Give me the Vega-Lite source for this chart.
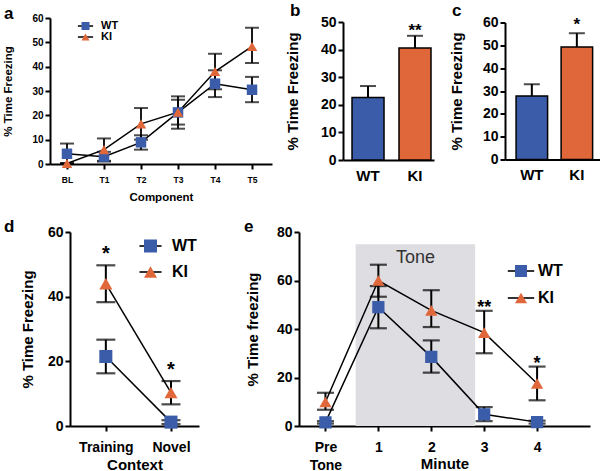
{
"$schema":"https://vega.github.io/schema/vega-lite/v6.json",
"padding":{"left":2,"top":1,"right":0,"bottom":0},
"config":{
 "font":"Liberation Sans",
 "view":{"stroke":null},
 "axis":{"domainColor":"black","domainWidth":2,"tickColor":"black","tickWidth":2,"tickSize":5,"labelColor":"black","labelFontWeight":"bold","titleColor":"black","titleFontWeight":"bold","grid":false,"labelFont":"Liberation Sans","titleFont":"Liberation Sans"},
 "legend":{"labelFontWeight":"bold","labelColor":"black","padding":0,"orient":"none","title":null,"labelFont":"Liberation Sans"},
 "title":{"font":"Liberation Sans","fontWeight":"bold","fontSize":17,"anchor":"start","frame":"group","color":"black","offset":0,"baseline":"alphabetic"}
},
"datasets":{
 "a":[
  {"idx":0,"component":"BL","group":"WT","mean":4.2,"lo":0.3,"hi":8.4},
  {"idx":1,"component":"T1","group":"WT","mean":3.0,"lo":1.0,"hi":5.0},
  {"idx":2,"component":"T2","group":"WT","mean":8.9,"lo":5.9,"hi":11.8},
  {"idx":3,"component":"T3","group":"WT","mean":21.2,"lo":14.5,"hi":27.8},
  {"idx":4,"component":"T4","group":"WT","mean":33.0,"lo":27.5,"hi":38.5},
  {"idx":5,"component":"T5","group":"WT","mean":30.5,"lo":25.4,"hi":35.8},
  {"idx":0,"component":"BL","group":"KI","mean":0.2,"lo":0,"hi":0.4},
  {"idx":1,"component":"T1","group":"KI","mean":5.9,"lo":1.3,"hi":10.5},
  {"idx":2,"component":"T2","group":"KI","mean":16.5,"lo":10.0,"hi":23.0},
  {"idx":3,"component":"T3","group":"KI","mean":21.3,"lo":16.2,"hi":26.4},
  {"idx":4,"component":"T4","group":"KI","mean":38.0,"lo":30.7,"hi":45.3},
  {"idx":5,"component":"T5","group":"KI","mean":48.3,"lo":41.5,"hi":56.0}
 ],
 "b":[{"group":"WT","mean":22.6,"hi":26.8,"star":""},{"group":"KI","mean":40.6,"hi":45.0,"star":"**"}],
 "c":[{"group":"WT","mean":27.8,"hi":33.0,"star":""},{"group":"KI","mean":49.3,"hi":55.3,"star":"*"}],
 "d":[
  {"idx":0,"context":"Training","group":"WT","mean":21.5,"lo":16.3,"hi":26.7,"star":""},
  {"idx":1,"context":"Novel","group":"WT","mean":1.2,"lo":0.6,"hi":1.8,"star":""},
  {"idx":0,"context":"Training","group":"KI","mean":44.0,"lo":38.3,"hi":49.7,"star":"*"},
  {"idx":1,"context":"Novel","group":"KI","mean":10.3,"lo":6.7,"hi":13.9,"star":"*"}
 ],
 "e":[
  {"idx":0,"group":"WT","mean":1.5,"lo":1.0,"hi":2.0,"star":""},
  {"idx":1,"group":"WT","mean":49.0,"lo":40.3,"hi":57.7,"star":""},
  {"idx":2,"group":"WT","mean":28.5,"lo":22.0,"hi":35.3,"star":""},
  {"idx":3,"group":"WT","mean":4.8,"lo":2.0,"hi":7.8,"star":""},
  {"idx":4,"group":"WT","mean":1.6,"lo":1.0,"hi":2.2,"star":""},
  {"idx":0,"group":"KI","mean":9.9,"lo":6.7,"hi":13.7,"star":""},
  {"idx":1,"group":"KI","mean":60.0,"lo":53.3,"hi":66.5,"star":""},
  {"idx":2,"group":"KI","mean":47.7,"lo":40.8,"hi":56.0,"star":""},
  {"idx":3,"group":"KI","mean":38.5,"lo":30.0,"hi":47.5,"star":"**"},
  {"idx":4,"group":"KI","mean":17.5,"lo":10.6,"hi":24.5,"star":"*"}
 ],
 "tone":[{"start":0.57,"end":2.83,"top":75,"mid":1.7,"label":"Tone"}]
},
"spacing":15,
"resolve":{"scale":{"x":"independent","y":"independent","color":"independent","shape":"independent","stroke":"independent"},"legend":{"color":"independent","shape":"independent","stroke":"independent"}},
"vconcat":[
 {
  "hconcat":[
   {
    "width":222,"height":146,
    "title":{"text":"a","dx":-46,"dy":13.5},
    "data":{"name":"a"},
    "encoding":{"x":{"field":"idx","type":"quantitative","scale":{"domain":[-0.459,5.54],"nice":false,"zero":false},"axis":{"values":[0,1,2,3,4,5],"labelExpr":"['BL','T1','T2','T3','T4','T5'][datum.value]","title":"Component","labelFontSize":8.5,"titleFontSize":11.5,"labelPadding":6,"titlePadding":8}}},
    "layer":[
     {"mark":{"type":"line","strokeWidth":1.5},"encoding":{"y":{"field":"mean","type":"quantitative","scale":{"domain":[0,60],"nice":false},"axis":{"values":[0,10,20,30,40,50,60],"title":"% Time Freezing","labelFontSize":10,"titleFontSize":11.5,"titlePadding":18,"labelOverlap":false}},
       "stroke":{"field":"group","type":"nominal","scale":{"domain":["KI","WT"],"range":["black","black"]},"legend":{"values":["WT","KI"],"orient":"none","legendX":30,"legendY":2.5,"symbolSize":64,"symbolType":"M-1.9,0H1.9","symbolStrokeWidth":1.5,"labelFontSize":11,"labelOffset":10,"labelExpr":"''","labelOpacity":0,"rowPadding":-2,"zindex":0}}}},
     {"mark":{"type":"rule","strokeWidth":1.8,"color":"black"},"encoding":{"y":{"field":"lo","type":"quantitative","axis":{"values":[0,10,20,30,40,50,60],"title":"% Time Freezing","labelFontSize":10,"titleFontSize":11.5,"titlePadding":18,"labelOverlap":false}},"y2":{"field":"hi"},"detail":{"field":"group"}}},
     {"mark":{"type":"tick","orient":"horizontal","size":14,"thickness":2,"color":"black"},"encoding":{"y":{"field":"lo","type":"quantitative","axis":{"values":[0,10,20,30,40,50,60],"title":"% Time Freezing","labelFontSize":10,"titleFontSize":11.5,"titlePadding":18,"labelOverlap":false}}}},
     {"mark":{"type":"tick","orient":"horizontal","size":14,"thickness":2,"color":"black"},"encoding":{"y":{"field":"hi","type":"quantitative","axis":{"values":[0,10,20,30,40,50,60],"title":"% Time Freezing","labelFontSize":10,"titleFontSize":11.5,"titlePadding":18,"labelOverlap":false}}}},
     {"mark":{"type":"point","filled":true,"opacity":1,"size":110},"encoding":{
       "y":{"field":"mean","type":"quantitative","axis":{"values":[0,10,20,30,40,50,60],"title":"% Time Freezing","labelFontSize":10,"titleFontSize":11.5,"titlePadding":18,"labelOverlap":false}},
       "shape":{"field":"group","type":"nominal","scale":{"domain":["WT","KI"],"range":["square","triangle-up"]},"legend":{"orient":"none","legendX":30,"legendY":2.5,"symbolSize":64,"labelFontSize":11,"labelOffset":10,"rowPadding":-2,"zindex":1}},
       "color":{"field":"group","type":"nominal","scale":{"domain":["WT","KI"],"range":["#3a5ca9","#e0673a"]},"legend":{"orient":"none","legendX":30,"legendY":2.5,"symbolSize":64,"labelFontSize":11,"labelOffset":10,"rowPadding":-2,"zindex":1}}
     }}
    ]
   },
   {
    "width":91,"height":138,
    "title":{"text":"b","dx":-53,"dy":8.5},
    "data":{"name":"b"},
    "encoding":{"x":{"field":"group","type":"nominal","sort":["WT","KI"],"scale":{"paddingInner":0.319,"paddingOuter":0.128,"align":0.75},"axis":{"title":null,"ticks":false,"labelAngle":0,"labelFontSize":15,"labelPadding":8}}},
    "layer":[
     {"mark":{"type":"bar","stroke":"black","strokeWidth":1.5},"encoding":{"y":{"field":"mean","type":"quantitative","scale":{"domain":[0,50],"nice":false},"axis":{"values":[0,10,20,30,40,50],"title":"% Time Freezing","labelFontSize":14,"titleFontSize":15,"titlePadding":20,"labelOverlap":false}},"color":{"field":"group","type":"nominal","scale":{"domain":["WT","KI"],"range":["#3a5ca9","#e0673a"]},"legend":null}}},
     {"mark":{"type":"rule","strokeWidth":2,"color":"black"},"encoding":{"y":{"field":"mean","type":"quantitative","axis":{"values":[0,10,20,30,40,50],"title":"% Time Freezing","labelFontSize":14,"titleFontSize":15,"titlePadding":20,"labelOverlap":false}},"y2":{"field":"hi"}}},
     {"mark":{"type":"tick","orient":"horizontal","size":16,"thickness":2,"color":"black"},"encoding":{"y":{"field":"hi","type":"quantitative","axis":{"values":[0,10,20,30,40,50],"title":"% Time Freezing","labelFontSize":14,"titleFontSize":15,"titlePadding":20,"labelOverlap":false}}}},
     {"mark":{"type":"text","fontSize":17,"fontWeight":"bold","baseline":"middle","dy":-5,"color":"black"},"encoding":{"y":{"field":"hi","type":"quantitative","axis":{"values":[0,10,20,30,40,50],"title":"% Time Freezing","labelFontSize":14,"titleFontSize":15,"titlePadding":20,"labelOverlap":false}},"text":{"field":"star"}}}
    ]
   },
   {
    "width":95,"height":137,
    "title":{"text":"c","dx":-53,"dy":8.5},
    "data":{"name":"c"},
    "encoding":{"x":{"field":"group","type":"nominal","sort":["WT","KI"],"scale":{"paddingInner":0.3,"paddingOuter":0.205,"align":0.6},"axis":{"title":null,"ticks":false,"labelAngle":0,"labelFontSize":15,"labelPadding":8}}},
    "layer":[
     {"mark":{"type":"bar","stroke":"black","strokeWidth":1.5},"encoding":{"y":{"field":"mean","type":"quantitative","scale":{"domain":[0,60],"nice":false},"axis":{"values":[0,10,20,30,40,50,60],"title":"% Time Freezing","labelFontSize":14,"titleFontSize":15,"titlePadding":18,"labelOverlap":false}},"color":{"field":"group","type":"nominal","scale":{"domain":["WT","KI"],"range":["#3a5ca9","#e0673a"]},"legend":null}}},
     {"mark":{"type":"rule","strokeWidth":2,"color":"black"},"encoding":{"y":{"field":"mean","type":"quantitative","axis":{"values":[0,10,20,30,40,50,60],"title":"% Time Freezing","labelFontSize":14,"titleFontSize":15,"titlePadding":18,"labelOverlap":false}},"y2":{"field":"hi"}}},
     {"mark":{"type":"tick","orient":"horizontal","size":16,"thickness":2,"color":"black"},"encoding":{"y":{"field":"hi","type":"quantitative","axis":{"values":[0,10,20,30,40,50,60],"title":"% Time Freezing","labelFontSize":14,"titleFontSize":15,"titlePadding":18,"labelOverlap":false}}}},
     {"mark":{"type":"text","fontSize":17,"fontWeight":"bold","baseline":"middle","dy":-8,"color":"black"},"encoding":{"y":{"field":"hi","type":"quantitative","axis":{"values":[0,10,20,30,40,50,60],"title":"% Time Freezing","labelFontSize":14,"titleFontSize":15,"titlePadding":18,"labelOverlap":false}},"text":{"field":"star"}}}
    ]
   }
  ],
  "spacing":71,"bounds":"flush","center":true,
  "resolve":{"scale":{"x":"independent","y":"independent","color":"independent","shape":"independent","stroke":"independent"},"legend":{"color":"independent","shape":"independent","stroke":"independent"}}
 },
 {
  "hconcat":[
   {"width":1,"height":1,"data":{"values":[{}]},"mark":{"type":"point","opacity":0,"size":0},"encoding":{}},
   {
    "hconcat":[
     {
      "width":129,"height":194,
      "title":{"text":"d","dx":-66,"dy":15},
      "data":{"name":"d"},
      "encoding":{"x":{"field":"idx","type":"quantitative","scale":{"domain":[-0.55,1.43],"nice":false,"zero":false},"axis":{"values":[0,1],"labelExpr":"datum.value == 0 ? 'Training' : 'Novel'","title":"Context","labelFontSize":14,"titleFontSize":15,"labelPadding":9,"titlePadding":3}}},
      "layer":[
       {"mark":{"type":"line","strokeWidth":1.5},"encoding":{"y":{"field":"mean","type":"quantitative","scale":{"domain":[0,60],"nice":false},"axis":{"values":[0,20,40,60],"title":"% Time Freezing","labelFontSize":14,"titleFontSize":15,"titlePadding":12}},
         "stroke":{"field":"group","type":"nominal","scale":{"domain":["KI","WT"],"range":["black","black"]},"legend":{"values":["WT","KI"],"orient":"none","legendX":72.5,"legendY":6,"symbolSize":169,"symbolType":"M-1.7,0H1.7","symbolStrokeWidth":1.6,"labelFontSize":16,"labelOffset":13.5,"labelExpr":"''","labelOpacity":0,"rowPadding":10,"zindex":0}}}},
       {"mark":{"type":"rule","strokeWidth":2,"color":"black"},"encoding":{"y":{"field":"lo","type":"quantitative","axis":{"values":[0,20,40,60],"title":"% Time Freezing","labelFontSize":14,"titleFontSize":15,"titlePadding":12}},"y2":{"field":"hi"},"detail":{"field":"group"}}},
       {"mark":{"type":"tick","orient":"horizontal","size":19,"thickness":2.2,"color":"black"},"encoding":{"y":{"field":"lo","type":"quantitative","axis":{"values":[0,20,40,60],"title":"% Time Freezing","labelFontSize":14,"titleFontSize":15,"titlePadding":12}}}},
       {"mark":{"type":"tick","orient":"horizontal","size":19,"thickness":2.2,"color":"black"},"encoding":{"y":{"field":"hi","type":"quantitative","axis":{"values":[0,20,40,60],"title":"% Time Freezing","labelFontSize":14,"titleFontSize":15,"titlePadding":12}}}},
       {"mark":{"type":"point","filled":true,"opacity":1,"size":170},"encoding":{
         "y":{"field":"mean","type":"quantitative","axis":{"values":[0,20,40,60],"title":"% Time Freezing","labelFontSize":14,"titleFontSize":15,"titlePadding":12}},
         "shape":{"field":"group","type":"nominal","scale":{"domain":["WT","KI"],"range":["square","triangle-up"]},"legend":{"orient":"none","legendX":72.5,"legendY":6,"symbolSize":169,"labelFontSize":16,"labelOffset":13.5,"rowPadding":10,"zindex":1}},
         "color":{"field":"group","type":"nominal","scale":{"domain":["WT","KI"],"range":["#3a5ca9","#e0673a"]},"legend":{"orient":"none","legendX":72.5,"legendY":6,"symbolSize":169,"labelFontSize":16,"labelOffset":13.5,"rowPadding":10,"zindex":1}}
       }},
       {"mark":{"type":"text","fontSize":20,"fontWeight":"bold","baseline":"middle","dy":-11,"color":"black"},"encoding":{"y":{"field":"hi","type":"quantitative","axis":{"values":[0,20,40,60],"title":"% Time Freezing","labelFontSize":14,"titleFontSize":15,"titlePadding":12}},"text":{"field":"star"}}}
      ]
     },
     {
      "width":291,"height":194,
      "title":{"text":"e","dx":-55,"dy":15},
      "encoding":{"x":{"field":"idx","type":"quantitative","scale":{"domain":[-0.5,5],"nice":false,"zero":false},"axis":{"values":[0,1,2,3,4],"labelExpr":"datum.value == 0 ? ['Pre','Tone'] : datum.label","title":"Minute","labelFontSize":14,"titleFontSize":15,"labelPadding":9,"titlePadding":-16,"labelLineHeight":18}}},
      "layer":[
       {"data":{"name":"tone"},"mark":{"type":"rect","color":"#dddde2"},"encoding":{"x":{"field":"start","type":"quantitative"},"x2":{"field":"end"},"y":{"field":"top","type":"quantitative","scale":{"domain":[0,80],"nice":false},"axis":{"values":[0,20,40,60,80],"title":"% Time freezing","labelFontSize":14,"titleFontSize":15,"titlePadding":16}},"y2":{"datum":0}}},
       {"data":{"name":"tone"},"mark":{"type":"text","fontSize":18,"color":"#333333","baseline":"top","dy":5},"encoding":{"x":{"field":"mid","type":"quantitative"},"y":{"field":"top","type":"quantitative","axis":{"values":[0,20,40,60,80],"title":"% Time freezing","labelFontSize":14,"titleFontSize":15,"titlePadding":16}},"text":{"field":"label"}}},
       {"data":{"name":"e"},"mark":{"type":"line","strokeWidth":1.5},"encoding":{"y":{"field":"mean","type":"quantitative","axis":{"values":[0,20,40,60,80],"title":"% Time freezing","labelFontSize":14,"titleFontSize":15,"titlePadding":16}},
         "stroke":{"field":"group","type":"nominal","scale":{"domain":["KI","WT"],"range":["black","black"]},"legend":{"values":["WT","KI"],"orient":"none","legendX":214,"legendY":31,"symbolSize":144,"symbolType":"M-2.2,0H2.2","symbolStrokeWidth":1.6,"labelFontSize":16,"labelOffset":9,"labelExpr":"''","labelOpacity":0,"rowPadding":11,"zindex":0}}}},
       {"data":{"name":"e"},"mark":{"type":"rule","strokeWidth":2,"color":"black"},"encoding":{"y":{"field":"lo","type":"quantitative","axis":{"values":[0,20,40,60,80],"title":"% Time freezing","labelFontSize":14,"titleFontSize":15,"titlePadding":16}},"y2":{"field":"hi"},"detail":{"field":"group"}}},
       {"data":{"name":"e"},"mark":{"type":"tick","orient":"horizontal","size":17,"thickness":2.2,"color":"black"},"encoding":{"y":{"field":"lo","type":"quantitative","axis":{"values":[0,20,40,60,80],"title":"% Time freezing","labelFontSize":14,"titleFontSize":15,"titlePadding":16}}}},
       {"data":{"name":"e"},"mark":{"type":"tick","orient":"horizontal","size":17,"thickness":2.2,"color":"black"},"encoding":{"y":{"field":"hi","type":"quantitative","axis":{"values":[0,20,40,60,80],"title":"% Time freezing","labelFontSize":14,"titleFontSize":15,"titlePadding":16}}}},
       {"data":{"name":"e"},"mark":{"type":"point","filled":true,"opacity":1,"size":150},"encoding":{
         "y":{"field":"mean","type":"quantitative","axis":{"values":[0,20,40,60,80],"title":"% Time freezing","labelFontSize":14,"titleFontSize":15,"titlePadding":16}},
         "shape":{"field":"group","type":"nominal","scale":{"domain":["WT","KI"],"range":["square","triangle-up"]},"legend":{"orient":"none","legendX":214,"legendY":31,"symbolSize":144,"labelFontSize":16,"labelOffset":9,"rowPadding":11,"zindex":1}},
         "color":{"field":"group","type":"nominal","scale":{"domain":["WT","KI"],"range":["#3a5ca9","#e0673a"]},"legend":{"orient":"none","legendX":214,"legendY":31,"symbolSize":144,"labelFontSize":16,"labelOffset":9,"rowPadding":11,"zindex":1}}
       }},
       {"data":{"name":"e"},"mark":{"type":"text","fontSize":18,"fontWeight":"bold","baseline":"middle","dy":-3,"color":"black"},"encoding":{"y":{"field":"hi","type":"quantitative","axis":{"values":[0,20,40,60,80],"title":"% Time freezing","labelFontSize":14,"titleFontSize":15,"titlePadding":16}},"text":{"field":"star"}}}
      ]
     }
    ],
    "spacing":100,"bounds":"flush",
    "resolve":{"scale":{"x":"independent","y":"independent","color":"independent","shape":"independent","stroke":"independent"},"legend":{"color":"independent","shape":"independent","stroke":"independent"}}
   }
  ],
  "spacing":19,"bounds":"flush",
  "resolve":{"scale":{"x":"independent","y":"independent","color":"independent","shape":"independent","stroke":"independent"},"legend":{"color":"independent","shape":"independent","stroke":"independent"}}
 }
]
}
